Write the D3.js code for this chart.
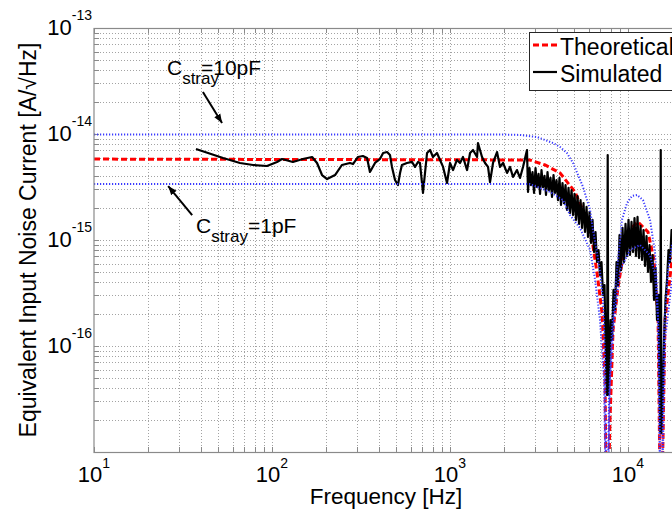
<!DOCTYPE html>
<html>
<head>
<meta charset="utf-8">
<script src="https://cdn.jsdelivr.net/npm/d3@7"></script>
<style>
  html, body { margin: 0; padding: 0; background: #fff; }
  svg { display: block; font-family: "Liberation Sans", Arial, Helvetica, sans-serif; }
</style>
</head>
<body>
<svg id="chart" width="672" height="512"></svg>
<script>
// Input-referred current noise of the front end versus frequency.

// Theoretical noise, nominal stray capacitance
const theoFreq  = [10, 2810, 3420, 4150, 5040, 5730, 6280, 6700, 7150, 7430, 7600, 7920, 8240, 8790, 9870, 11380, 12950, 14000, 14750, 15310, 16140, 17660, 20000];
const theoValue = [5.8e-15, 5.69e-15, 5.1e-15, 4.29e-15, 2.84e-15, 1.72e-15, 1.0e-15, 4.88e-16, 2.05e-16, 4.78e-17, 1e-18, 2.0e-17, 1.42e-16, 3.6e-16, 1.19e-15, 1.48e-15, 1.19e-15, 6.48e-16, 1.76e-16, 1e-18, 1.76e-16, 6.48e-16, 1.1e-15];

// Theoretical bound, Cstray = 10 pF
const c10Freq  = [10, 1910, 2470, 3080, 3790, 4150, 4540, 4910, 5590, 6120, 6360, 6700, 6960, 7240, 7430, 7600, 7820, 8130, 8570, 9250, 9870, 10520, 11240, 12140, 13290, 14190, 14550, 14930, 15310, 15920, 16790, 17660, 20000];
const c10Value = [9.9e-15, 9.9e-15, 9.8e-15, 9.37e-15, 8.22e-15, 7.54e-15, 6.62e-15, 5.33e-15, 3.16e-15, 1.92e-15, 1.24e-15, 7.54e-16, 4.99e-16, 2.72e-16, 7.38e-17, 1e-18, 3.1e-17, 1.42e-16, 4.2e-16, 1.55e-15, 2.23e-15, 2.6e-15, 2.66e-15, 2.38e-15, 1.55e-15, 7.54e-16, 3.6e-16, 9.2e-17, 1e-18, 1.42e-16, 5.2e-16, 8.97e-16, 1.55e-15];

// Theoretical bound, Cstray = 1 pF
const c1Freq  = [10, 2810, 3650, 4310, 4720, 5370, 6120, 6530, 6960, 7330, 7600, 7920, 8340, 9020, 10260, 11670, 13290, 14190, 14750, 15310, 16140, 17660, 20000];
const c1Value = [3.37e-15, 3.37e-15, 2.84e-15, 2.38e-15, 1.72e-15, 1.30e-15, 8.05e-16, 4.2e-16, 1.76e-16, 4.78e-17, 1e-18, 4.78e-17, 1.76e-16, 5.2e-16, 8.05e-16, 8.97e-16, 7.2e-16, 4.67e-16, 1.76e-16, 1e-18, 1.14e-16, 4.2e-16, 7e-16];

// Simulated noise spectrum (Hz, A/sqrt(Hz))
const simFreq = [
  37.4, 53.1, 66.1, 78.2, 93.7, 106.7, 113.8, 131, 149, 168, 179, 191, 204, 226, 247, 274, 285, 304, 324, 342, 355, 379, 404, 421, 443, 460, 472, 491, 510, 524, 537, 573, 612, 636, 661,
  678, 705, 743, 773, 802, 845, 879, 914, 962, 1000, 1040, 1094, 1138, 1183, 1247, 1296, 1347, 1419, 1436, 1513, 1573, 1635, 1678, 1744, 1837, 1910, 1986, 2091, 2173, 2259, 2378, 2473, 2571, 2707,
  2743, 2797, 2852, 2908, 2965, 3023, 3083, 3144, 3205, 3266, 3331, 3396, 3462, 3530, 3599, 3669, 3741, 3815, 3889, 3965, 4043, 4122, 4203, 4285, 4369, 4456, 4543, 4632, 4723, 4816,
  4910, 5006, 5105, 5205, 5307, 5411, 5517, 5623, 5734, 5847, 5960, 6077, 6196, 6318, 6442, 6568, 6695, 6828, 6961, 7097, 7237, 7379, 7475, 7572, 7620, 7690, 7750,
  7822, 7975, 8131, 8290, 8453, 8619, 8788, 8960, 9135, 9314, 9495, 9683, 9872, 10065, 10261, 10464, 10668, 10877, 11090, 11309, 11530, 11755, 11987, 12221, 12460, 12704, 12955, 13208, 13467, 13730,
  14002, 14275, 14554, 14839, 15030, 15190, 15270, 15390, 15630, 15930, 16240, 16560, 16890, 17220, 17560, 17900, 18370];
const simValue = [
  7.22e-15, 5.94e-15, 5.33e-15, 5.1e-15, 4.99e-15, 5.45e-15, 5.81e-15, 5.45e-15, 5.81e-15, 6.07e-15, 5.33e-15, 4.1e-15, 3.76e-15, 4.1e-15, 5.1e-15, 5.33e-15, 5.21e-15, 6.07e-15, 6.2e-15, 5.94e-15, 4.38e-15, 5.33e-15, 5.81e-15, 6.62e-15, 6.76e-15, 6.34e-15, 4.89e-15, 3.68e-15, 3.30e-15, 4.29e-15, 5.1e-15, 5.33e-15, 5.45e-15, 4.89e-15, 5.45e-15,
  5.33e-15, 2.78e-15, 6.62e-15, 7.06e-15, 6.07e-15, 6.62e-15, 5.69e-15, 4.89e-15, 3.45e-15, 5.33e-15, 4.57e-15, 5.69e-15, 5.33e-15, 6.07e-15, 4.57e-15, 6.62e-15, 7.06e-15, 6.07e-15, 8.22e-15, 6.07e-15, 5.33e-15, 4.89e-15, 3.52e-15, 5.33e-15, 6.76e-15, 4.89e-15, 5.33e-15, 4.29e-15, 4.89e-15, 3.93e-15, 4.57e-15, 3.85e-15, 4.89e-15, 7.06e-15,
  2.84e-15, 4.78e-15, 3.30e-15, 4.38e-15, 2.78e-15, 4.78e-15, 3.16e-15, 4.2e-15, 2.72e-15, 4.57e-15, 3.16e-15, 4.02e-15, 2.66e-15, 4.38e-15, 2.96e-15, 3.85e-15, 2.55e-15, 4.1e-15, 2.78e-15, 3.68e-15, 2.38e-15, 3.85e-15, 2.14e-15, 3.45e-15, 2.23e-15, 3.30e-15, 1.92e-15, 3.10e-15, 1.80e-15, 2.96e-15,
  1.72e-15, 2.72e-15, 1.55e-15, 2.60e-15, 1.42e-15, 2.38e-15, 1.30e-15, 2.23e-15, 1.19e-15, 2.05e-15, 1.07e-15, 1.84e-15, 9.37e-16, 1.55e-15, 7.70e-16, 1.19e-15, 6.20e-16, 8.05e-16, 4.67e-16, 6.20e-16, 3.03e-16, 3.76e-16, 1.14e-16, 4.78e-17, 3.45e-17, 6.34e-15, 3.45e-17,
  4.78e-17, 1.76e-16, 1.14e-16, 3.38e-16, 2.18e-16, 6.20e-16, 3.76e-16, 1.11e-15, 5.2e-16, 1.30e-15, 6.20e-16, 1.42e-15, 7.06e-16, 1.55e-15, 7.22e-16, 1.48e-15, 7.70e-16, 1.61e-15, 7.06e-16, 1.65e-15, 6.76e-16, 1.36e-15, 6.48e-16, 1.24e-15, 5.69e-16, 1.09e-15, 4.99e-16, 8.97e-16, 4.02e-16, 7.22e-16,
  2.72e-16, 5.45e-16, 1.76e-16, 3.03e-16, 4.78e-17, 1.51e-17, 7.06e-15, 1.51e-17, 3.09e-17, 1.14e-16, 2.72e-16, 4.2e-16, 8.05e-16, 6.20e-16, 1.24e-15, 8.97e-16, 1.0e-15];

// Labelled decades
const xTickLabels = [10, 100, 1000, 10000];
const yTickLabels = [1e-16, 1e-15, 1e-14, 1e-13];

const legendLabels = ["Theoretical", "Simulated"];

// Annotation anchors (data units): text position, arrow tail, arrow tip
const strayNotes = [
  { value: "=10pF", shift: -18, text: [25.7, 3.6e-14],  tail: [40.9, 2.49e-14], tip: [52.4, 1.27e-14] },
  { value: "=1pF",  shift: 0,   text: [37.4, 1.16e-15], tail: [35.6, 1.72e-15], tip: [26.1, 3.23e-15] }
];

const zip = (a, b) => a.map((v, i) => [v, b[i]]);

const svg = d3.select("#chart");
const pL = 94, pT = 28, pB = 452, pR = 681.6;

const x = d3.scaleLog().domain([10, 20000]).range([pL, pR]);
const y = d3.scaleLog().domain([1e-17, 1e-13]).range([pB, pT]);

const gridColor = "#a3a3a3";
const axisColor = "#8a8a8a";

// Grid (major and minor, dotted)
const grid = svg.append("g");
grid.selectAll("line.gx").data(x.ticks().filter(d => d > 10)).join("line")
  .attr("x1", d => Math.round(x(d)) + 0.5).attr("x2", d => Math.round(x(d)) + 0.5)
  .attr("y1", pT).attr("y2", pB)
  .attr("stroke", gridColor).attr("stroke-width", 1).attr("stroke-dasharray", "1,2");
grid.selectAll("line.gy").data(y.ticks().filter(d => d > 1.01e-17 && d < 0.99e-13)).join("line")
  .attr("y1", d => Math.round(y(d)) + 0.5).attr("y2", d => Math.round(y(d)) + 0.5)
  .attr("x1", pL).attr("x2", pR)
  .attr("stroke", gridColor).attr("stroke-width", 1).attr("stroke-dasharray", "1,2");

// Tick marks, pointing inward
const tickLen = 5;
const ticks = svg.append("g").attr("stroke", axisColor).attr("stroke-width", 1);
x.ticks().forEach(d => {
  const px = Math.round(x(d)) + 0.5;
  ticks.append("line").attr("x1", px).attr("x2", px).attr("y1", pB).attr("y2", pB - tickLen);
  ticks.append("line").attr("x1", px).attr("x2", px).attr("y1", pT).attr("y2", pT + tickLen);
});
y.ticks().forEach(d => {
  const py = Math.round(y(d)) + 0.5;
  ticks.append("line").attr("y1", py).attr("y2", py).attr("x1", pL).attr("x2", pL + tickLen);
});

// Curves
svg.append("defs").append("clipPath").attr("id", "plotClip")
  .append("rect").attr("x", pL).attr("y", pT).attr("width", pR - pL).attr("height", pB - pT);

const line = d3.line().x(d => x(d[0])).y(d => y(d[1]));
const plot = svg.append("g").attr("clip-path", "url(#plotClip)");

plot.append("path").datum(zip(theoFreq, theoValue)).attr("d", line)
  .attr("fill", "none").attr("stroke", "#ff0000").attr("stroke-width", 3)
  .attr("stroke-dasharray", "6,3");

plot.append("path").datum(zip(simFreq, simValue)).attr("d", line)
  .attr("fill", "none").attr("stroke", "#000").attr("stroke-width", 2.2)
  .attr("stroke-linejoin", "round");

[zip(c10Freq, c10Value), zip(c1Freq, c1Value)].forEach(series => {
  plot.append("path").datum(series).attr("d", line)
    .attr("fill", "none").attr("stroke", "#3a3aff").attr("stroke-width", 2)
    .attr("stroke-dasharray", "1.2,1.8");
});

// Axes frame
svg.append("rect").attr("x", pL).attr("y", pT + 0.5)
  .attr("width", pR - pL).attr("height", pB - pT)
  .attr("fill", "none").attr("stroke", axisColor).attr("stroke-width", 1.2);

// Tick labels with exponents
const baseSize = 22, expSize = 14;
svg.append("g").selectAll("text").data(xTickLabels).join("text")
  .attr("x", d => x(d)).attr("y", 482)
  .attr("text-anchor", "middle").attr("font-size", baseSize).attr("fill", "#000")
  .each(function (d) {
    const t = d3.select(this);
    t.append("tspan").text("10");
    t.append("tspan").attr("font-size", expSize).attr("dy", -14).text(Math.round(Math.log10(d)));
  });

svg.append("g").selectAll("text").data(yTickLabels).join("text")
  .attr("x", 92).attr("y", d => y(d) + 7)
  .attr("text-anchor", "end").attr("font-size", baseSize).attr("fill", "#000")
  .each(function (d) {
    const t = d3.select(this);
    t.append("tspan").text("10");
    t.append("tspan").attr("font-size", expSize).attr("dy", -15).text(Math.round(Math.log10(d)));
  });

// Axis titles
svg.append("text").attr("x", 386).attr("y", 504).attr("text-anchor", "middle")
  .attr("font-size", 22.5).attr("fill", "#000").text("Frequency [Hz]");
svg.append("text").attr("transform", "translate(36," + ((pT + pB) / 2) + ") rotate(-90)")
  .attr("text-anchor", "middle").attr("font-size", 23).attr("fill", "#000")
  .text("Equivalent Input Noise Current [A/\u221AHz]");

// Annotations
svg.append("defs").append("marker").attr("id", "arrowHead")
  .attr("markerUnits", "userSpaceOnUse").attr("markerWidth", 10).attr("markerHeight", 8)
  .attr("refX", 9).attr("refY", 4).attr("orient", "auto")
  .append("path").attr("d", "M0,0.5 L9,4 L0,7.5 Z").attr("fill", "#000");

strayNotes.forEach(n => {
  svg.append("line")
    .attr("x1", x(n.tail[0])).attr("y1", y(n.tail[1]))
    .attr("x2", x(n.tip[0])).attr("y2", y(n.tip[1]))
    .attr("stroke", "#000").attr("stroke-width", 2).attr("marker-end", "url(#arrowHead)");
  const t = svg.append("text").attr("x", x(n.text[0])).attr("y", y(n.text[1]))
    .attr("font-size", 21).attr("fill", "#000");
  t.append("tspan").text("C");
  t.append("tspan").attr("font-size", 17).attr("dy", 9).text("stray");
  t.append("tspan").attr("dy", -9).attr("dx", n.shift).text(n.value);
});

// Legend
const lg = svg.append("g");
lg.append("rect").attr("x", 529.5).attr("y", 32.5).attr("width", 200).attr("height", 58)
  .attr("fill", "#fff").attr("stroke", "#262626").attr("stroke-width", 1);
const legendStyles = [
  { stroke: "#ff0000", width: 3, dash: "6,3" },
  { stroke: "#000", width: 2.2, dash: null }
];
legendLabels.forEach((lab, i) => {
  const cy = 45 + i * 27;
  lg.append("line").attr("x1", 533).attr("x2", 557).attr("y1", cy).attr("y2", cy)
    .attr("stroke", legendStyles[i].stroke).attr("stroke-width", legendStyles[i].width)
    .attr("stroke-dasharray", legendStyles[i].dash);
  lg.append("text").attr("x", 560).attr("y", cy + 10).attr("font-size", 23).attr("fill", "#000").text(lab);
});
</script>
</body>
</html>
